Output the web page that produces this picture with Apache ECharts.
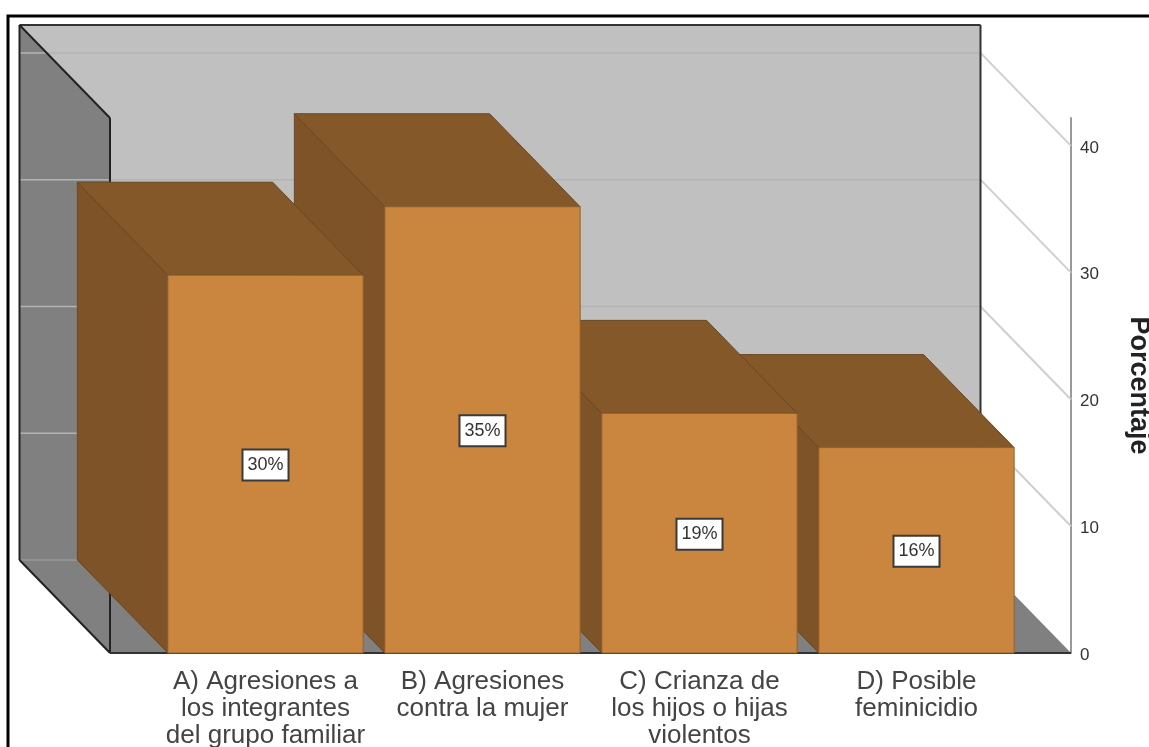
<!DOCTYPE html>
<html><head><meta charset="utf-8">
<style>html,body{margin:0;padding:0;background:#fff;overflow:hidden}#c{width:1149px;height:747px}</style>
<script src="https://cdn.jsdelivr.net/npm/echarts@6/dist/echarts.min.js"></script>
</head><body><div id="c"></div>
<script>
const categories = ["A) Agresiones a\nlos integrantes\ndel grupo familiar","B) Agresiones\ncontra la mujer","C) Crianza de\nlos hijos o hijas\nviolentos","D) Posible\nfeminicidio"];
const values = [29.8, 35.2, 18.9, 16.2];
const yTicks = [0, 10, 20, 30, 40];
const yMax = 42.2;
const depthX = 90.5, depthY = 93;
const padLeft = 47, padRight = 46;
const font = '"Liberation Sans", Arial, sans-serif';

function line(x1,y1,x2,y2,stroke,w){return {type:'line',shape:{x1,y1,x2,y2},style:{stroke,lineWidth:w,fill:null},silent:true};}
function poly(points,fill,stroke,w){return {type:'polygon',shape:{points},style:{fill,stroke:stroke||null,lineWidth:w||0},silent:true};}

function renderFrame(params, api){
  const cs = params.coordSys;
  const L = cs.x - padLeft, R = cs.x + cs.width + padRight;
  const y0 = api.coord([0,0])[1], yT = api.coord([0,yMax])[1];
  const BL = L - depthX, BR = R - depthX, by0 = y0 - depthY, byT = yT - depthY;
  const kids = [
    poly([[BL,byT],[BR,byT],[BR,by0],[BL,by0]],'#C0C0C0'),
    poly([[BL,byT],[L,yT],[L,y0],[BL,by0]],'#808080'),
    poly([[BL,by0],[BR,by0],[R,y0],[L,y0]],'#808080')
  ];
  yTicks.forEach(t=>{
    const y = api.coord([0,t])[1];
    if(t>0) kids.push(line(R,y,BR,y-depthY,'#CFCFCF',2));
    kids.push(line(BL,y-depthY,BR,y-depthY,t===0?'#999999':'#B4B4B4',1.5));
  });
  const ink='#222222';
  kids.push(line(BL,byT,BR,byT,'#333333',2));
  kids.push(line(BR,byT,BR,by0,'#333333',2));
  kids.push(line(BL,byT,BL,by0,ink,2));
  kids.push(line(BL,byT,L,yT,ink,2));
  kids.push(line(L,yT,L,y0,ink,2));
  kids.push(line(BL,by0,L,y0,ink,2));
  kids.push(line(L,y0,R,y0,'#333333',2));
  return {type:'group',children:kids};
}

function renderBar(params, api){
  const i = api.value(0), v = api.value(1);
  const c = api.coord([i,v]), b = api.coord([i,0]);
  const w = api.size([1,0])[0]*0.9;
  const x1 = c[0]-w/2, x2 = c[0]+w/2, yt = c[1], yb = b[1];
  const edge = '#6A4722', edgeF='#8F6230';
  return {type:'group',children:[
    poly([[x1,yb],[x1-depthX,yb-depthY],[x1-depthX,yt-depthY],[x1,yt]],'#7E5327',edge,1),
    poly([[x1,yt],[x1-depthX,yt-depthY],[x2-depthX,yt-depthY],[x2,yt]],'#855829',edge,1),
    poly([[x1,yt],[x2,yt],[x2,yb],[x1,yb]],'#CA853F',edgeF,1),
    {type:'text',silent:true,style:{
      text:Math.round(v)+'%',x:c[0],y:(yt+yb)/2+1,align:'center',verticalAlign:'middle',
      fill:'#333333',font:'18px '+font,backgroundColor:'#fff',borderColor:'#3a3a3a',borderWidth:2,
      padding:[6,4,5,4]
    }}
  ]};
}

const chart = echarts.init(document.getElementById('c'),null,{renderer:'canvas'});
chart.setOption({
  animation:false,
  backgroundColor:'#fff',
  graphic:[{type:'rect',left:5.5,top:13.5,shape:{width:1200,height:800},style:{fill:'none',stroke:'#000',lineWidth:3},silent:true,z:100}],
  grid:{left:157,right:124,top:118,bottom:94,containLabel:false,outerBoundsMode:'none'},
  xAxis:{type:'category',data:categories,axisLine:{show:false},axisTick:{show:false},splitLine:{show:false},
    axisLabel:{interval:0,margin:15,fontFamily:font,fontSize:26,lineHeight:27,color:'#444444',align:'center'}},
  yAxis:{type:'value',position:'right',offset:46,min:0,max:yMax,interval:10,
    axisLine:{show:true,lineStyle:{color:'#999999',width:2}},axisTick:{show:false},splitLine:{show:false},
    axisLabel:{showMaxLabel:false,margin:9,formatter:'{a|{value}}',
      rich:{a:{fontFamily:font,fontSize:17,color:'#333333',padding:[4,0,0,0]}}},
    name:'Porcentaje',nameLocation:'middle',nameRotate:-90,nameGap:54,
    nameTextStyle:{fontFamily:font,fontSize:27,fontWeight:'bold',color:'#222222'}},
  series:[
    {type:'custom',renderItem:renderFrame,data:[[0,0]],encode:{x:0,y:1},silent:true,z:1},
    {type:'custom',renderItem:renderBar,data:values.map((v,i)=>[i,v]).reverse(),encode:{x:0,y:1},silent:true,z:2}
  ]
});
</script></body></html>
